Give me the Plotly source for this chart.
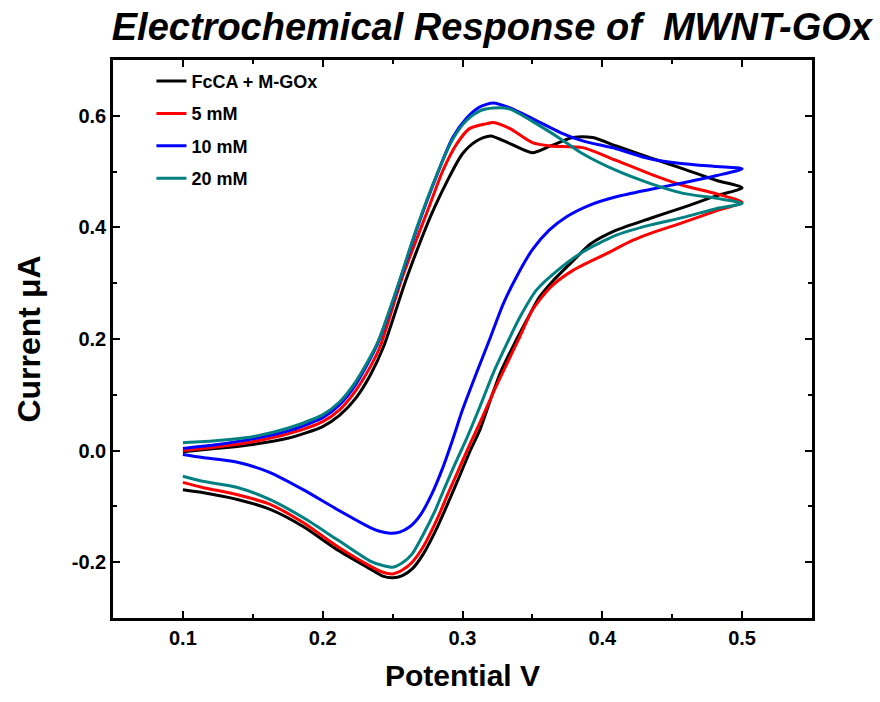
import plotly.graph_objects as go

# ---------------- data ----------------
series_names = ["FcCA + M-GOx", "5 mM", "10 mM", "20 mM"]
series_colors = ["#000000", "#FF0000", "#0000FF", "#008080"]

# FcCA + M-GOx
black_fwd_v = [0.100, 0.125, 0.150, 0.175, 0.200, 0.212, 0.224, 0.234, 0.2435, 0.260, 0.280, 0.300, 0.310, 0.320,
               0.334, 0.350, 0.363, 0.379, 0.393, 0.410, 0.434, 0.458, 0.482, 0.500]
black_fwd_i = [-0.002, 0.004, 0.011, 0.022, 0.043, 0.063, 0.095, 0.135, 0.186, 0.309, 0.436, 0.532, 0.555, 0.564,
               0.550, 0.534, 0.546, 0.561, 0.561, 0.546, 0.525, 0.505, 0.484, 0.471]
black_rev_v = [0.482, 0.458, 0.434, 0.410, 0.392, 0.379, 0.365, 0.355, 0.346, 0.336, 0.327, 0.320, 0.3125,
               0.305, 0.298, 0.290, 0.282, 0.272, 0.264, 0.257, 0.250, 0.243, 0.234, 0.210, 0.186, 0.162,
               0.139, 0.114, 0.100]
black_rev_i = [0.457, 0.436, 0.416, 0.395, 0.371, 0.340, 0.305, 0.275, 0.234, 0.186, 0.139, 0.091, 0.0375,
               -0.003, -0.045, -0.092, -0.137, -0.185, -0.212, -0.224, -0.228, -0.225, -0.212, -0.177, -0.136,
               -0.105, -0.0875, -0.075, -0.070]

# 5 mM
red_fwd_v = [0.100, 0.125, 0.150, 0.175, 0.200, 0.212, 0.224, 0.234, 0.241, 0.257, 0.277, 0.286, 0.296, 0.305,
             0.3175, 0.322, 0.334, 0.350, 0.363, 0.386, 0.410, 0.434, 0.458, 0.482, 0.500]
red_fwd_i = [0.000, 0.007, 0.016, 0.030, 0.052, 0.073, 0.109, 0.150, 0.186, 0.311, 0.443, 0.502, 0.550, 0.577,
             0.586, 0.588, 0.577, 0.552, 0.546, 0.543, 0.520, 0.496, 0.475, 0.460, 0.445]
red_rev_v = [0.482, 0.458, 0.434, 0.422, 0.403, 0.379, 0.363, 0.350, 0.341, 0.332, 0.322, 0.3125, 0.305,
             0.298, 0.290, 0.282, 0.272, 0.264, 0.257, 0.250, 0.243, 0.234, 0.210, 0.186, 0.162, 0.139,
             0.114, 0.100]
red_rev_i = [0.430, 0.409, 0.389, 0.377, 0.353, 0.323, 0.293, 0.252, 0.204, 0.157, 0.104, 0.050, 0.010,
             -0.030, -0.075, -0.122, -0.172, -0.200, -0.214, -0.221, -0.218, -0.207, -0.171, -0.129, -0.096,
             -0.079, -0.066, -0.057]

# 10 mM
blue_fwd_v = [0.100, 0.125, 0.150, 0.175, 0.200, 0.212, 0.224, 0.239, 0.253, 0.267, 0.282, 0.293, 0.303, 0.3125,
              0.322, 0.334, 0.350, 0.370, 0.386, 0.410, 0.434, 0.458, 0.482, 0.500]
blue_fwd_i = [0.004, 0.011, 0.021, 0.035, 0.059, 0.082, 0.120, 0.190, 0.288, 0.395, 0.496, 0.561, 0.596, 0.616,
              0.623, 0.614, 0.595, 0.570, 0.555, 0.541, 0.523, 0.514, 0.509, 0.505]
blue_rev_v = [0.482, 0.458, 0.434, 0.410, 0.392, 0.375, 0.362, 0.350, 0.340, 0.329, 0.320, 0.310, 0.300,
              0.293, 0.286, 0.278, 0.270, 0.262, 0.255, 0.248, 0.240, 0.234, 0.210, 0.186, 0.162, 0.139,
              0.114, 0.100]
blue_rev_i = [0.493, 0.480, 0.468, 0.455, 0.441, 0.420, 0.395, 0.360, 0.318, 0.262, 0.203, 0.139, 0.073,
              0.020, -0.030, -0.078, -0.115, -0.137, -0.146, -0.148, -0.144, -0.138, -0.105, -0.070, -0.039,
              -0.021, -0.0125, -0.007]

# 20 mM
teal_fwd_v = [0.100, 0.125, 0.150, 0.175, 0.200, 0.212, 0.224, 0.239, 0.253, 0.267, 0.282, 0.293, 0.303, 0.3125,
              0.322, 0.334, 0.350, 0.370, 0.386, 0.410, 0.434, 0.458, 0.482, 0.500]
teal_fwd_i = [0.014, 0.018, 0.025, 0.040, 0.064, 0.087, 0.125, 0.192, 0.290, 0.397, 0.497, 0.558, 0.592, 0.609,
              0.614, 0.612, 0.590, 0.559, 0.532, 0.502, 0.479, 0.461, 0.452, 0.443]
teal_rev_v = [0.482, 0.458, 0.434, 0.410, 0.386, 0.368, 0.353, 0.341, 0.332, 0.322, 0.3125, 0.303, 0.295,
              0.287, 0.280, 0.272, 0.264, 0.257, 0.250, 0.243, 0.234, 0.210, 0.186, 0.162, 0.139, 0.114, 0.100]
teal_rev_i = [0.434, 0.418, 0.404, 0.386, 0.356, 0.323, 0.288, 0.239, 0.193, 0.139, 0.079, 0.022, -0.022,
              -0.068, -0.110, -0.150, -0.185, -0.201, -0.209, -0.206, -0.198, -0.159, -0.120, -0.0875, -0.066,
              -0.055, -0.046]

x_tick_vals = [0.1, 0.2, 0.3, 0.4, 0.5]
x_tick_text = ["0.1", "0.2", "0.3", "0.4", "0.5"]
y_tick_vals = [-0.2, 0.0, 0.2, 0.4, 0.6]
y_tick_text = ["-0.2", "0.0", "0.2", "0.4", "0.6"]

# ---------------- figure ----------------
curves = [
    (black_fwd_v, black_fwd_i, black_rev_v, black_rev_i),
    (red_fwd_v, red_fwd_i, red_rev_v, red_rev_i),
    (blue_fwd_v, blue_fwd_i, blue_rev_v, blue_rev_i),
    (teal_fwd_v, teal_fwd_i, teal_rev_v, teal_rev_i),
]

fig = go.Figure()
for name, color, (fv, fi, rv, ri) in zip(series_names, series_colors, curves):
    fig.add_trace(go.Scatter(
        x=list(fv) + list(rv), y=list(fi) + list(ri),
        mode="lines", name=name, legendgroup=name,
        line=dict(color=color, width=3, shape="spline", smoothing=0.7),
    ))

FONT = "Liberation Sans, Arial, sans-serif"
axis_common = dict(
    showline=True, linecolor="black", linewidth=2.5, mirror="ticks",
    ticks="inside", ticklen=7, tickwidth=2, tickcolor="black",
    showgrid=False, zeroline=False,
    tickfont=dict(family=FONT, size=20, color="black", weight="bold"),
)

fig.update_layout(
    width=880, height=702,
    paper_bgcolor="white", plot_bgcolor="white",
    margin=dict(l=113, r=68, t=60, b=84),
    title=dict(
        text="<b><i>Electrochemical Response of  MWNT-GOx</i></b>",
        font=dict(family=FONT, size=38, color="black"),
        x=0.542, xref="paper", xanchor="center",
        y=0.962, yref="container", yanchor="middle",
    ),
    xaxis=dict(
        range=[0.05, 0.55], tickvals=x_tick_vals, ticktext=x_tick_text,
        minor=dict(ticks="inside", ticklen=4, tickwidth=2, tickcolor="black", dtick=0.05, tick0=0.05),
        title=dict(text="<b>Potential V</b>", font=dict(family=FONT, size=30, color="black"), standoff=18),
        **axis_common,
    ),
    yaxis=dict(
        range=[-0.3, 0.7], tickvals=y_tick_vals, ticktext=y_tick_text,
        minor=dict(ticks="inside", ticklen=4, tickwidth=2, tickcolor="black", dtick=0.1, tick0=0.1),
        title=dict(text="<b>Current μA</b>", font=dict(family=FONT, size=32, color="black"), standoff=22),
        **axis_common,
    ),
    legend=dict(
        x=0.055, y=0.995, xanchor="left", yanchor="top",
        bgcolor="rgba(0,0,0,0)", borderwidth=0,
        font=dict(family=FONT, size=18, color="black", weight="bold"),
        tracegroupgap=6,
    ),
    showlegend=True,
)

fig.write_html("out.html")
